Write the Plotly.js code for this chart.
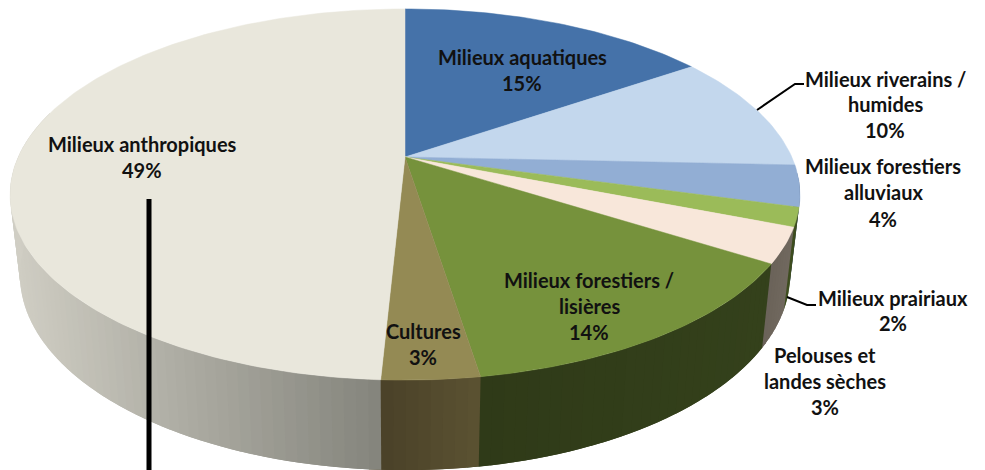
<!DOCTYPE html>
<html>
<head>
<meta charset="utf-8">
<script src="https://cdn.plot.ly/plotly-3.0.1.min.js"></script>
<style>html,body{margin:0;padding:0;background:#fff}#chart{width:985px;height:470px}</style>
</head>
<body>
<div id="chart"></div>
<script>
// Data, clockwise from twelve o'clock
const categories = ["Milieux aquatiques","Milieux riverains / humides","Milieux forestiers alluviaux","Milieux prairiaux","Pelouses et landes sèches","Milieux forestiers / lisières","Cultures","Milieux anthropiques"];
const shares = [15.45,10.25,3.6,1.65,3.05,13.5,3.3,49.2];
const percentLabels = ["15%","10%","4%","2%","3%","14%","3%","49%"];
const topColors = ["#4572a9","#c3d7ed","#92aed4","#9bbb59","#f8e7da","#76923c","#948a54","#e9e7dc"];
const sideColorsA = ["#2b4768","#75818f","#5f7594","#3e4d1f","#71695f","#34411b","#5b5232","#84847c"];
const sideColorsB = ["#2b4768","#75818f","#5f7594","#3e4d1f","#6a6259","#2f3a18","#4a4128","#d0cec4"];

// Text of each label, one entry per printed line, with the centre of the line
const labelLines = [
  [["Milieux aquatiques",522,57],["15%",522,83]],
  [["Milieux riverains /",885,79],["humides",885,104],["10%",885,130]],
  [["Milieux forestiers",883,166],["alluviaux",883,192],["4%",883,219]],
  [["Milieux prairiaux",893,298],["2%",893,323]],
  [["Pelouses et",825,355],["landes sèches",825,381],["3%",825,407]],
  [["Milieux forestiers /",589,280],["lisières",589,306],["14%",589,332]],
  [["Cultures",423,331],["3%",423,357]],
  [["Milieux anthropiques",142,144],["49%",142,170]]
];

// Projection of the tilted disc
const cx=405, cy=157, rx=386.8, ry=178, k=0.2022;
const topPoint = deg => {
  const a=deg*Math.PI/180, u=Math.sin(a), v=Math.cos(a), w=1+k*v;
  return [cx+rx*u/w, cy-ry*v/w];
};
const lowPoint = deg => {
  const p=topPoint(deg);
  return [cx+0.975*(p[0]-cx), 235.3+1.053*(p[1]-cy)];
};
const hex = c => [1,3,5].map(i=>parseInt(c.substr(i,2),16));
const mix = (a,b,t) => {
  const A=hex(a),B=hex(b);
  return "rgb("+A.map((v,i)=>Math.round(v+(B[i]-v)*t)).join(",")+")";
};

const total = shares.reduce((s,v)=>s+v,0);
let acc=0;
const spans = shares.map(v=>{const s=acc/total*360; acc+=v; return [s,acc/total*360];});

const traces=[];
const sideFrom=95, sideTo=285, leftmostDeg=258, stepDeg=1.5, overlapDeg=1.5;
spans.forEach((sp,i)=>{
  const a=Math.max(sp[0],sideFrom), b=Math.min(sp[1],sideTo);
  if(b<=a) return;
  const n=Math.max(1,Math.ceil((b-a)/stepDeg));
  const xA=topPoint(a)[0], xB=topPoint(Math.min(b,leftmostDeg))[0];
  for(let j=0;j<n;j++){
    const d0=a+(b-a)*j/n, d1=Math.min(a+(b-a)*(j+1)/n+overlapDeg,sideTo);
    const pts=[topPoint(d0),topPoint((d0+d1)/2),topPoint(d1),lowPoint(d1),lowPoint((d0+d1)/2),lowPoint(d0),topPoint(d0)];
    const t=Math.min(1,Math.max(0,(topPoint(a+(b-a)*(j+0.5)/n)[0]-xA)/(xB-xA)));
    const col=mix(sideColorsA[i],sideColorsB[i],t);
    traces.push({type:"scatter",mode:"lines",x:pts.map(p=>p[0]),y:pts.map(p=>p[1]),fill:"toself",fillcolor:col,line:{width:0},hoverinfo:"skip",showlegend:false});
  }
});
spans.forEach((sp,i)=>{
  const pts=[[cx,cy]];
  const n=Math.max(4,Math.ceil((sp[1]-sp[0])));
  for(let j=0;j<=n;j++) pts.push(topPoint(sp[0]+(sp[1]-sp[0])*j/n));
  pts.push([cx,cy]);
  traces.push({type:"scatter",mode:"lines",name:categories[i],x:pts.map(p=>p[0]),y:pts.map(p=>p[1]),fill:"toself",fillcolor:topColors[i],line:{color:topColors[i],width:0.5},hoverinfo:"skip",showlegend:false});
});

const annotations=[];
labelLines.forEach(lines=>lines.forEach(l=>annotations.push({
  x:l[1],y:l[2],xref:"x",yref:"y",text:"<b>"+l[0]+"</b>",showarrow:false,xanchor:"center",yanchor:"middle",
  font:{family:"Lato, 'Open Sans', sans-serif",size:20,color:"#111111"}
})));

const layout={
  width:985,height:470,margin:{l:0,r:0,t:0,b:0},paper_bgcolor:"#ffffff",plot_bgcolor:"#ffffff",showlegend:false,
  xaxis:{range:[0,985],visible:false,fixedrange:true},
  yaxis:{range:[470,0],visible:false,fixedrange:true},
  annotations,
  shapes:[
    {type:"line",x0:149,x1:149,y0:199,y1:470,line:{color:"#000000",width:5}},
    {type:"path",path:"M757,110 L795,84 L804,84",line:{color:"#000000",width:2}},
    {type:"path",path:"M787,297 L807,305 L816,305",line:{color:"#000000",width:2}}
  ]
};
Plotly.newPlot("chart",traces,layout,{displayModeBar:false,staticPlot:true});
</script>
</body>
</html>
